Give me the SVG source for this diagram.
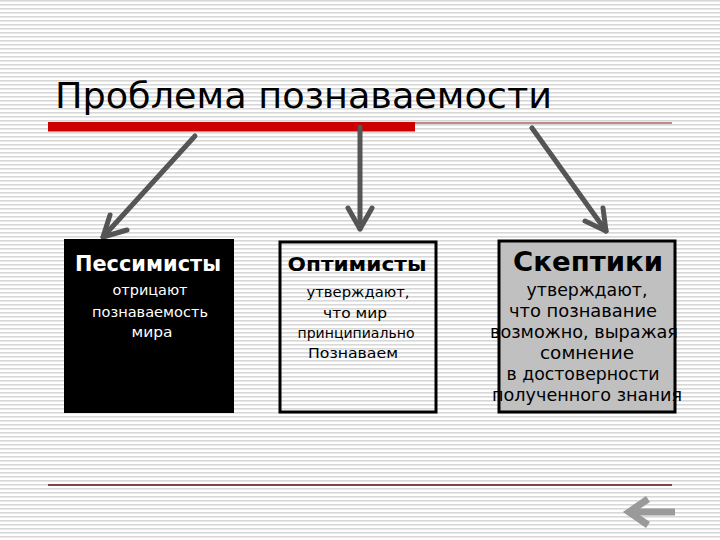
<svg xmlns="http://www.w3.org/2000/svg" width="720" height="540" viewBox="0 0 720 540">
<defs>
<pattern id="stripes" x="0" y="0" width="8" height="4" patternUnits="userSpaceOnUse">
<rect x="0" y="0" width="8" height="4" fill="#ffffff"/>
<rect x="0" y="0" width="8" height="1.6" fill="#d8d8d8"/>
</pattern>
<style>
.title{font-family:"DejaVu Sans","Liberation Sans",sans-serif;font-size:36px;fill:#000}
.hd{font-family:"DejaVu Sans","Liberation Sans",sans-serif;font-weight:bold;text-anchor:middle}
.tx{font-family:"DejaVu Sans","Liberation Sans",sans-serif;text-anchor:middle}
.arr{stroke:#555555;stroke-width:5;fill:none;stroke-linecap:round;stroke-linejoin:round}
.back{stroke:#9a9a9a;stroke-width:7;fill:none;stroke-linecap:butt;stroke-linejoin:miter}
</style>
</defs>
<rect x="0" y="0" width="720" height="540" fill="url(#stripes)"/>

<g id="title">
<text class="title" x="55" y="108" textLength="497" lengthAdjust="spacingAndGlyphs">Проблема познаваемости</text>
<line x1="415" y1="123" x2="672" y2="123" stroke="#7a1a1a" stroke-width="1.2"/>
<rect x="48" y="122" width="367" height="9.5" fill="#cc0000"/>
</g>

<g id="connectors">
<polyline class="arr" points="195,136 103,237"/>
<polyline class="arr" points="110,215 103,237 127,230"/>
<polyline class="arr" points="360,127 360,229"/>
<polyline class="arr" points="348,208 360,229 372,208"/>
<polyline class="arr" points="532,128 606,231"/>
<polyline class="arr" points="603,208 606,231 585,221"/>
</g>

<g id="pessimists">
<rect x="64" y="239" width="170" height="174" fill="#000000"/>
<text class="hd" x="148" y="271" font-size="21" fill="#ffffff" textLength="146" lengthAdjust="spacingAndGlyphs">Пессимисты</text>
<text class="tx" x="150" y="295" font-size="13.5" fill="#ffffff" textLength="75" lengthAdjust="spacingAndGlyphs">отрицают</text>
<text class="tx" x="150" y="317" font-size="13.5" fill="#ffffff" textLength="116" lengthAdjust="spacingAndGlyphs">познаваемость</text>
<text class="tx" x="152" y="337" font-size="13.5" fill="#ffffff" textLength="41" lengthAdjust="spacingAndGlyphs">мира</text>
</g>

<g id="optimists">
<rect x="280" y="242" width="156" height="170" fill="none" stroke="#000000" stroke-width="3"/>
<text class="hd" x="357" y="271" font-size="20" fill="#000000" textLength="139" lengthAdjust="spacingAndGlyphs">Оптимисты</text>
<text class="tx" x="358" y="297" font-size="13.5" fill="#000000" textLength="103" lengthAdjust="spacingAndGlyphs">утверждают,</text>
<text class="tx" x="355" y="318" font-size="13.5" fill="#000000" textLength="64" lengthAdjust="spacingAndGlyphs">что мир</text>
<text class="tx" x="356" y="338" font-size="13.5" fill="#000000" textLength="117" lengthAdjust="spacingAndGlyphs">принципиально</text>
<text class="tx" x="353" y="358" font-size="13.5" fill="#000000" textLength="90" lengthAdjust="spacingAndGlyphs">Познаваем</text>
</g>

<g id="skeptics">
<rect x="499" y="241" width="176" height="171" fill="#c0c0c0" stroke="#000000" stroke-width="3"/>
<text class="hd" x="588" y="271" font-size="27" fill="#000000" textLength="150" lengthAdjust="spacingAndGlyphs">Скептики</text>
<text class="tx" x="587" y="296" font-size="17" fill="#000000" textLength="121" lengthAdjust="spacingAndGlyphs">утверждают,</text>
<text class="tx" x="583" y="317" font-size="17" fill="#000000" textLength="148" lengthAdjust="spacingAndGlyphs">что познавание</text>
<text class="tx" x="584" y="338" font-size="17" fill="#000000" textLength="188" lengthAdjust="spacingAndGlyphs">возможно, выражая</text>
<text class="tx" x="587" y="359" font-size="17" fill="#000000" textLength="94" lengthAdjust="spacingAndGlyphs">сомнение</text>
<text class="tx" x="583" y="380" font-size="17" fill="#000000" textLength="153" lengthAdjust="spacingAndGlyphs">в достоверности</text>
<text class="tx" x="587" y="401" font-size="17" fill="#000000" textLength="190" lengthAdjust="spacingAndGlyphs">полученного знания</text>
</g>

<g id="footer">
<line x1="48" y1="485" x2="672" y2="485" stroke="#5a1414" stroke-width="1.3"/>
<line x1="675" y1="512" x2="632" y2="512" class="back"/>
<polyline class="back" points="648,499 629,512 648,525"/>
</g>
</svg>
